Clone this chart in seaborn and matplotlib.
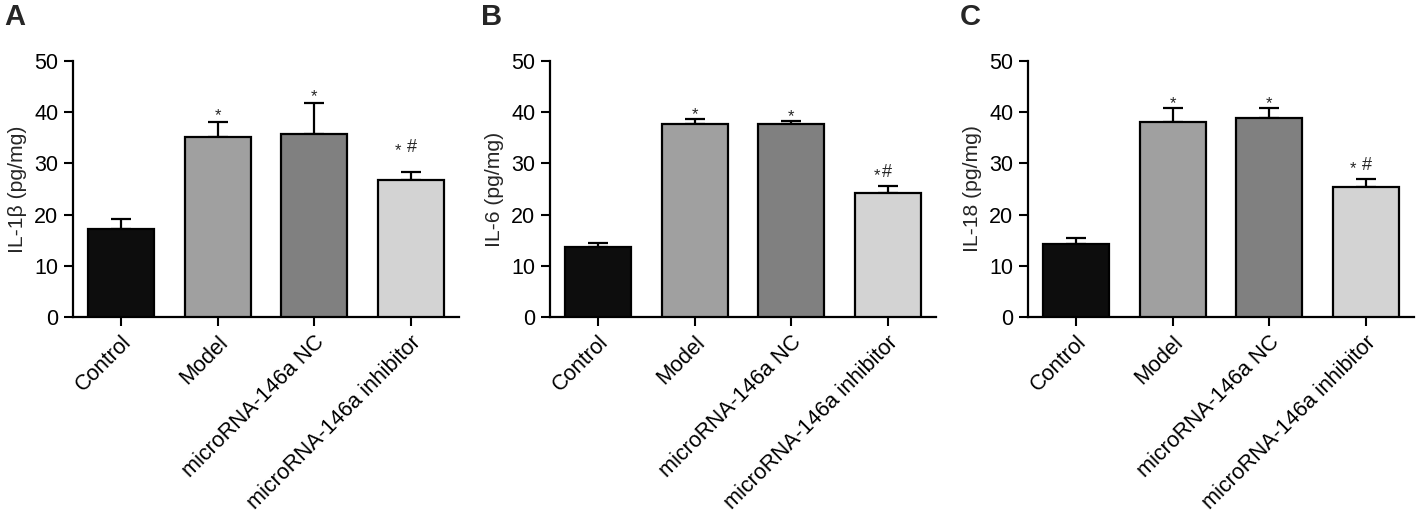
import matplotlib
matplotlib.use("Agg")
import matplotlib.pyplot as plt
import seaborn as sns
import pandas as pd

categories = ["Control", "Model", "microRNA-146a NC", "microRNA-146a inhibitor"]
colors = ["#0d0d0d", "#a0a0a0", "#808080", "#d3d3d3"]

il1b_mean = [17.2, 35.2, 35.8, 26.7]
il1b_err = [1.9, 2.8, 5.9, 1.7]
il6_mean = [13.7, 37.7, 37.6, 24.2]
il6_err = [0.7, 0.9, 0.6, 1.3]
il18_mean = [14.2, 38.0, 38.8, 25.4]
il18_err = [1.2, 2.8, 2.0, 1.6]

marks_a = ["", "*", "*", "* #"]
marks_b = ["", "*", "*", "*#"]
marks_c = ["", "*", "*", "* #"]

panels = [
    ("A", "IL-1β (pg/mg)", il1b_mean, il1b_err, marks_a),
    ("B", "IL-6 (pg/mg)", il6_mean, il6_err, marks_b),
    ("C", "IL-18 (pg/mg)", il18_mean, il18_err, marks_c),
]

sns.set_theme(style="ticks")
plt.rcParams["font.family"] = ["Liberation Sans", "DejaVu Sans"]

W, H = 1418, 516
fig = plt.figure(figsize=(W / 100, H / 100), dpi=100)
lefts = [73, 550, 1028]
label_x = [4, 481, 960]
star_gap = [-0.2, -0.6, -0.6]
hash_gap = [2.7, 0.7, 0.6]
axw = 386
bottom_px, top_px = 317, 61

for i, (letter, ylabel, means, errs, marks) in enumerate(panels):
    ax = fig.add_axes([lefts[i] / W, 1 - bottom_px / H, axw / W, (bottom_px - top_px) / H])
    df = pd.DataFrame({"group": categories, "value": means})
    sns.barplot(data=df, x="group", y="value", hue="group", palette=colors,
                order=categories, hue_order=categories, width=0.68,
                edgecolor="black", linewidth=1.6, legend=False, ax=ax, zorder=3)
    xs = list(range(len(categories)))
    ax.errorbar(xs, means, yerr=[[0] * 4, errs], fmt="none", ecolor="black",
                elinewidth=1.6, capsize=7, capthick=1.6, zorder=2)
    for x, m, e, t in zip(xs, means, errs, marks):
        if not t:
            continue
        if "#" in t:
            y = m + e + hash_gap[i]
            spaced = " " in t
            ax.annotate("*", xy=(x, y), xytext=(-9 if spaced else -7.5, 0),
                        textcoords="offset points", ha="center", va="bottom", fontsize=12)
            ax.annotate("#", xy=(x, y), xytext=(1 if spaced else -0.5, 1),
                        textcoords="offset points", ha="center", va="bottom", fontsize=13)
        else:
            y = m + e + star_gap[i]
            ax.text(x, y, t, ha="center", va="bottom", fontsize=12)
    ax.set_xlim(-0.5, 3.5)
    ax.set_ylim(0, 50)
    ax.set_yticks([0, 10, 20, 30, 40, 50])
    ax.set_xlabel("")
    ax.set_ylabel(ylabel, fontsize=15.2, labelpad=5)
    ax.tick_params(axis="both", direction="out", length=6.5, width=1.5, colors="black",
                   labelsize=15.5, pad=4)
    ax.set_xticks(xs)
    ax.set_xticklabels(categories, rotation=45, ha="right", rotation_mode="anchor",
                       fontsize=15.6)
    for s in ["left", "bottom"]:
        ax.spines[s].set_linewidth(1.6)
        ax.spines[s].set_color("black")
    sns.despine(ax=ax)
    fig.text(label_x[i] / W, 1 - 3 / H, letter, fontsize=21, fontweight="bold",
             ha="left", va="top")

fig.savefig("out.png", dpi=100)
